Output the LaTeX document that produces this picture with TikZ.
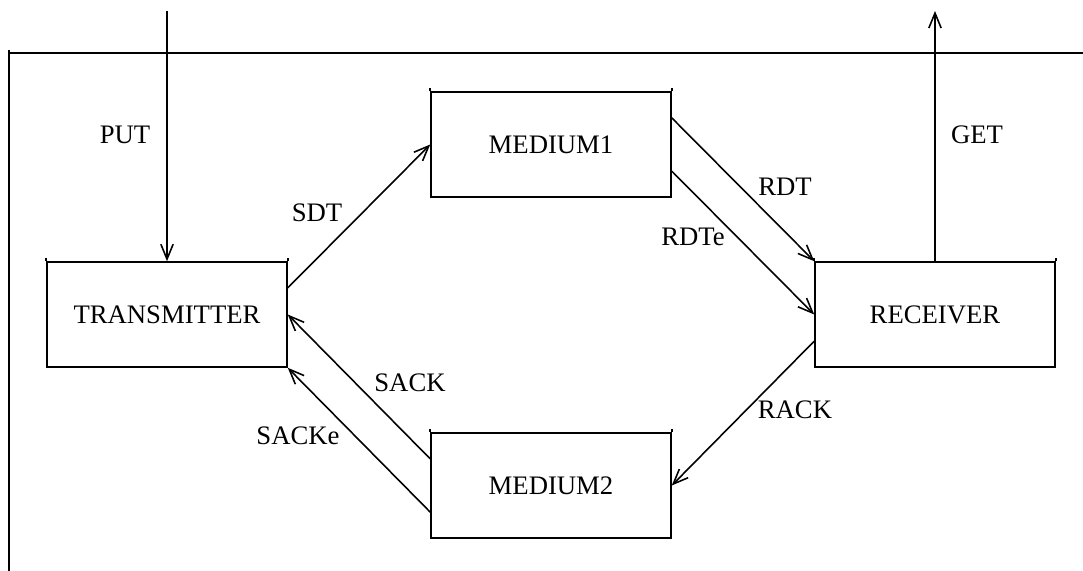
\documentclass[tikz,border=0pt]{standalone}
\usepackage{fontspec}
\setmainfont{Liberation Serif}
\usetikzlibrary{arrows.meta,calc}

\begin{document}
\begin{tikzpicture}[x=0.02cm,y=-0.02cm,line cap=butt,line join=miter,>={Straight Barb[length=8.5pt,width=7pt]},
  every node/.style={inner sep=0pt,font=\fontsize{15.2}{18}\selectfont},
  unit/.style={draw,line width=0.9pt,minimum width=4.8cm,minimum height=2.1cm},
  flow/.style={->,line width=0.9pt}]
  \useasboundingbox (0,0) rectangle (1083,571);
  \draw[line width=1pt] (9,571) -- (9,50);
  \draw[line width=1pt] (9,53) -- (1083,53);
  \node[unit] (tx) at (167,314.5) {TRANSMITTER};
  \node[unit] (m1) at (551,144.5) {MEDIUM1};
  \node[unit] (rx) at (935,314.5) {RECEIVER};
  \node[unit] (m2) at (551,485.5) {MEDIUM2};
  \foreach \b in {tx,m1,rx,m2}{
    \draw[line width=0.9pt] (\b.north west) -- ++(0,-3.5);
    \draw[line width=0.9pt] (\b.north east) -- ++(0,-3.5);
  }
  \coordinate (put) at (167,11);
  \coordinate (get) at (935,11);
  \draw[flow] (put) -- (tx.north);
  \draw[flow] (rx.north) -- (get);
  \draw[flow] ($(tx.north east)!0.25!(tx.south east)$) -- (m1.west);
  \draw[flow] ($(m1.north east)!0.25!(m1.south east)$) -- (rx.north west);
  \draw[flow] ($(m1.north east)!0.75!(m1.south east)$) -- (rx.west);
  \draw[flow] ($(rx.north west)!0.75!(rx.south west)$) -- (m2.east);
  \draw[flow] ($(m2.north west)!0.25!(m2.south west)$) -- (tx.east);
  \draw[flow] ($(m2.north west)!0.75!(m2.south west)$) -- (tx.south east);
  \node (lput) at (125,135) {PUT};
  \node (lget) at (977,135) {GET};
  \node (lsdt) at (317,213) {SDT};
  \node (lrdt) at (785,187) {RDT};
  \node (lrdte) at (693,237) {RDTe};
  \node (lrack) at (795,410) {RACK};
  \node (lsack) at (410,383) {SACK};
  \node (lsacke) at (298,436) {SACKe};
\end{tikzpicture}
\end{document}
